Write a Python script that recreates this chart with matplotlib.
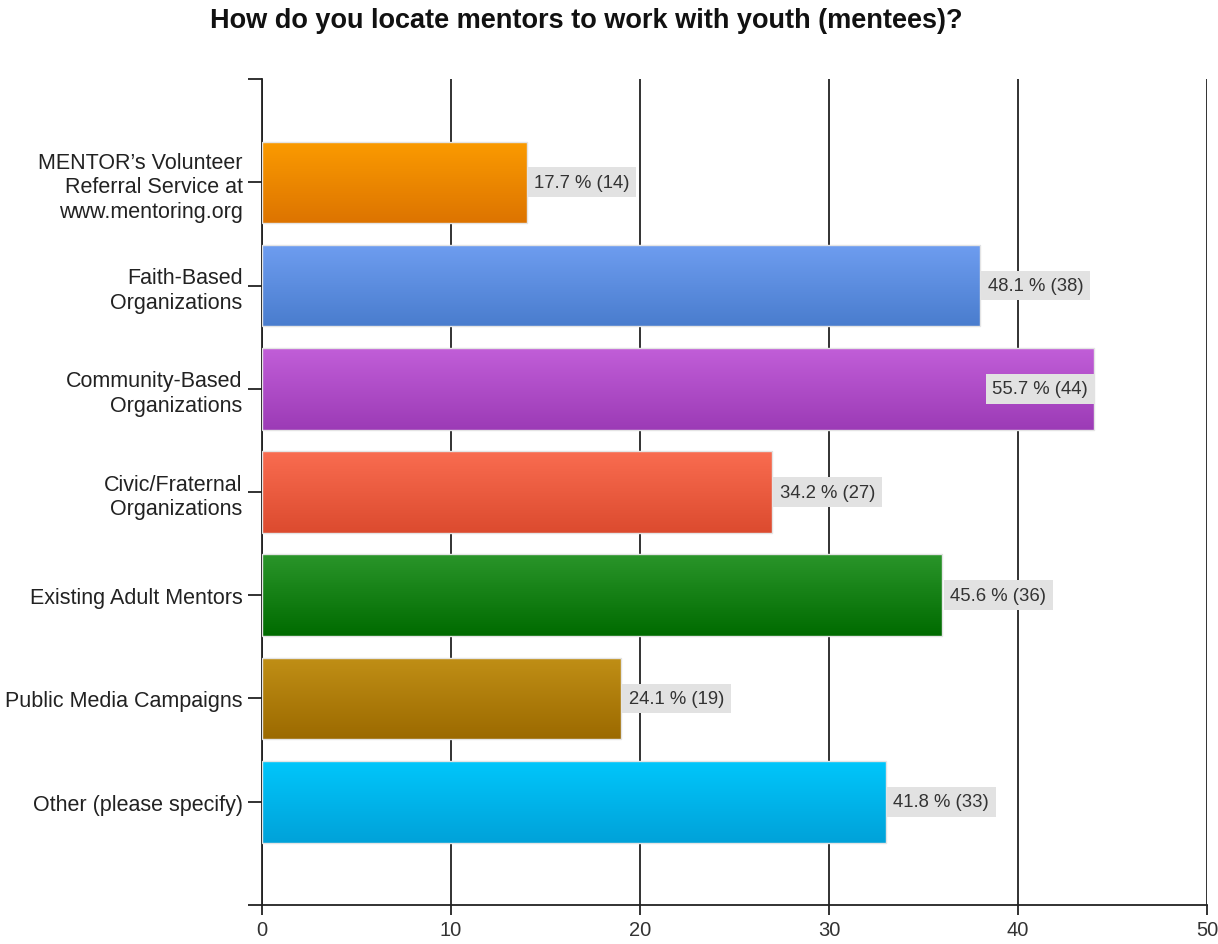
import numpy as np
import matplotlib
matplotlib.use("Agg")
import matplotlib.pyplot as plt
from matplotlib.colors import LinearSegmentedColormap

plt.rcParams["font.family"] = ["Liberation Sans", "DejaVu Sans"]

TITLE = "How do you locate mentors to work with youth (mentees)?"
categories = [
    "MENTOR\u2019s Volunteer\nReferral Service at\nwww.mentoring.org",
    "Faith-Based\nOrganizations",
    "Community-Based\nOrganizations",
    "Civic/Fraternal\nOrganizations",
    "Existing Adult Mentors",
    "Public Media Campaigns",
    "Other (please specify)",
]
counts = [14, 38, 44, 27, 36, 19, 33]
percents = [17.7, 48.1, 55.7, 34.2, 45.6, 24.1, 41.8]
# (top, bottom) colour of each bar's vertical gradient
bar_colors = [
    ("#fb9b00", "#dd7400"),
    ("#6e9df0", "#4a7dce"),
    ("#c15ed8", "#9c3bb6"),
    ("#f96c50", "#dc4b2f"),
    ("#2a952a", "#006b00"),
    ("#c08f16", "#9c6a00"),
    ("#00c6fb", "#00a2d9"),
]
xticks = [0, 10, 20, 30, 40, 50]

fig = plt.figure(figsize=(12.18, 9.45), dpi=100)
ax = fig.add_axes([0.2151, 0.0413, 0.9910 - 0.2151, 0.9153 - 0.0413])

y = np.arange(len(categories))
bars = ax.barh(y, counts, height=0.79, facecolor="none",
               edgecolor="#e4e4e4", linewidth=1.0, zorder=3)

grad = np.linspace(0, 1, 64).reshape(-1, 1)
for bar, (c_top, c_bot) in zip(bars, bar_colors):
    cmap = LinearSegmentedColormap.from_list("g", [c_top, c_bot])
    x0, yb = bar.get_x(), bar.get_y()
    w, h = bar.get_width(), bar.get_height()
    im = ax.imshow(grad, cmap=cmap, aspect="auto", interpolation="bilinear",
                   extent=[x0, x0 + w, yb + h, yb], zorder=2)
    im.set_clip_path(bar)

box = dict(boxstyle="square,pad=0.35", facecolor="#e2e2e2", edgecolor="none")
for yi, c, p in zip(y, counts, percents):
    label = f"{p:.1f} % ({c})"
    if c == max(counts):
        ax.annotate(label, (c, yi), xytext=(-4, 0), textcoords="offset points",
                    ha="right", va="center", fontsize=13.3, color="#333333",
                    bbox=box, zorder=5)
    else:
        ax.annotate(label, (c, yi), xytext=(5.5, 0), textcoords="offset points",
                    ha="left", va="center", fontsize=13.3, color="#333333",
                    bbox=box, zorder=5)

ax.set_xlim(0, 50)
ax.set_ylim(7, -1)
ax.set_xticks(xticks)
ax.set_xticklabels([str(t) for t in xticks], fontsize=14.5, color="#333333")
ax.set_yticks([-1] + list(y) + [7])
ax.set_yticklabels([""] + categories + [""], fontsize=15.5, color="#222222",
                   ha="right", linespacing=1.22)
ax.tick_params(axis="both", length=10, width=1.3, color="#222222")
ax.tick_params(axis="x", length=7, pad=4)
ax.tick_params(axis="y", pad=4)

ax.grid(axis="x", color="#222222", linewidth=1.3, zorder=1)
ax.set_axisbelow(True)
for side in ("top", "right"):
    ax.spines[side].set_visible(False)
for side in ("left", "bottom"):
    ax.spines[side].set_color("#222222")
    ax.spines[side].set_linewidth(1.3)

fig.text(0.4815, 0.978, TITLE, ha="center", va="center", fontsize=19.5,
         fontweight="bold", color="#111111")

fig.savefig("out.png", dpi=100)
